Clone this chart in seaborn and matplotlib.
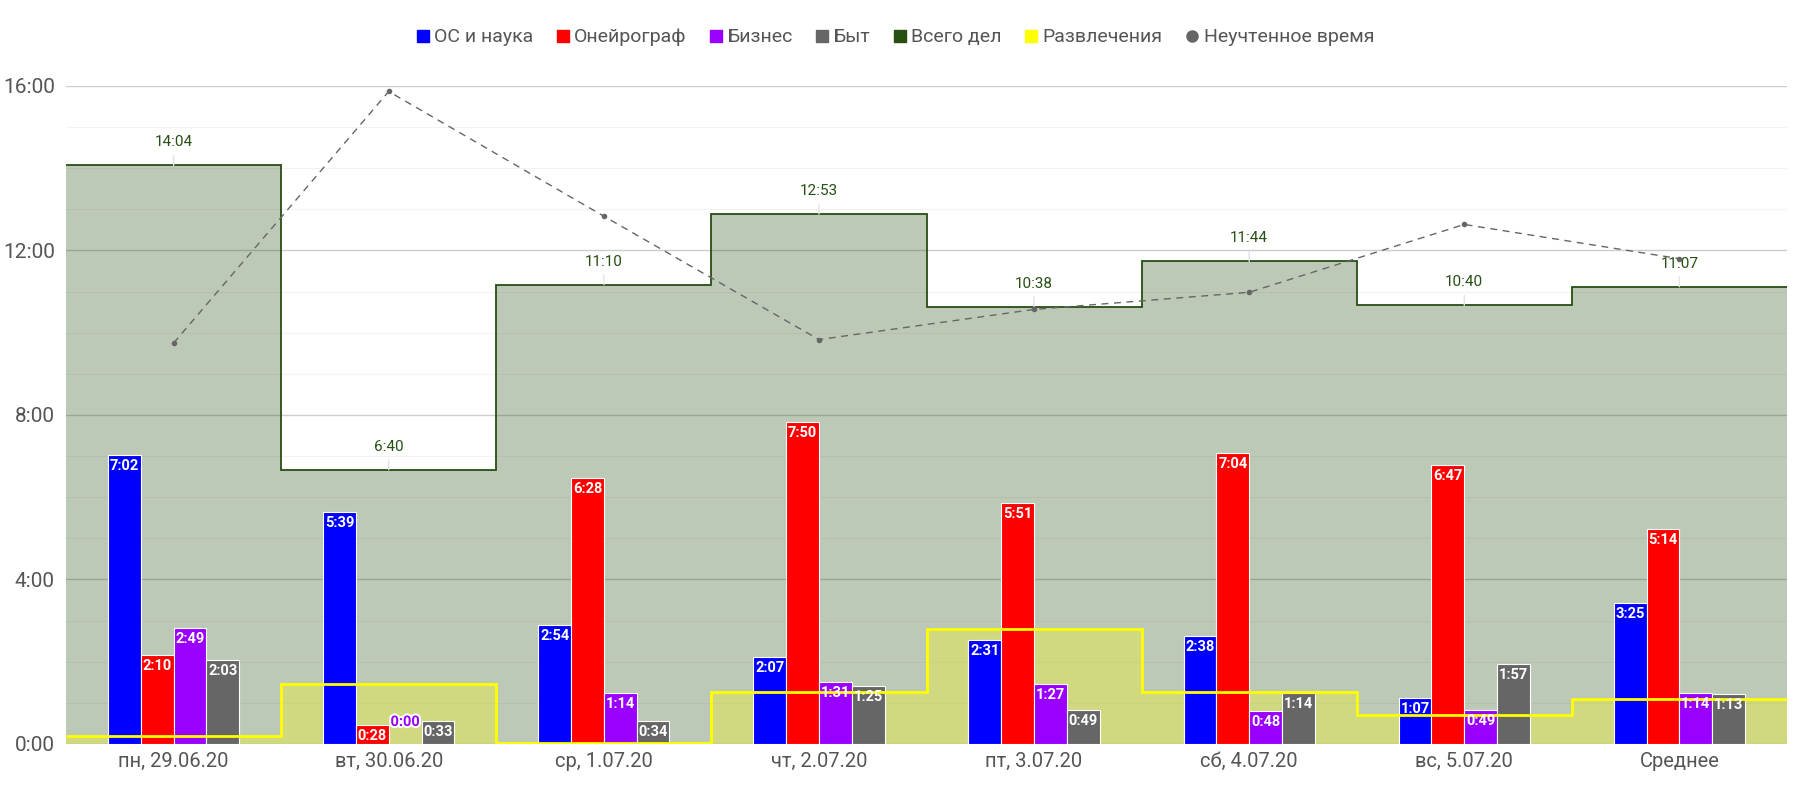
import numpy as np
import pandas as pd
import matplotlib
matplotlib.use("Agg")
import matplotlib.pyplot as plt
import matplotlib.patheffects as pe
from matplotlib.lines import Line2D
from matplotlib.ticker import MultipleLocator, FuncFormatter
import seaborn as sns

# days of the week + the average column
days = ["пн, 29.06.20", "вт, 30.06.20", "ср, 1.07.20", "чт, 2.07.20",
        "пт, 3.07.20", "сб, 4.07.20", "вс, 5.07.20", "Среднее"]

# time per activity, H:MM
science = ["7:02", "5:39", "2:54", "2:07", "2:31", "2:38", "1:07", "3:25"]
oneiro = ["2:10", "0:28", "6:28", "7:50", "5:51", "7:04", "6:47", "5:14"]
business = ["2:49", "0:00", "1:14", "1:31", "1:27", "0:48", "0:49", "1:14"]
household = ["2:03", "0:33", "0:34", "1:25", "0:49", "1:14", "1:57", "1:13"]
total = ["14:04", "6:40", "11:10", "12:53", "10:38", "11:44", "10:40", "11:07"]
fun = ["0:12", "1:28", "0:01", "1:16", "2:48", "1:16", "0:42", "1:06"]
unaccounted = ["9:45", "15:52", "12:50", "9:50", "10:34", "10:59", "12:38", "11:48"]

bar_names = ["ОС и наука", "Онейрограф", "Бизнес", "Быт"]
bar_colors = ["#0000ff", "#ff0000", "#9900ff", "#666666"]


def to_hours(s):
    h, m = s.split(":")
    return int(h) + int(m) / 60


rows = []
for name, vals in zip(bar_names, [science, oneiro, business, household]):
    for d, v in zip(days, vals):
        rows.append({"day": d, "series": name, "hours": to_hours(v), "label": v})
df = pd.DataFrame(rows)

sns.set_theme(style="white")
plt.rcParams["font.family"] = ["Roboto", "DejaVu Sans"]

fig = plt.figure(figsize=(18.05, 7.94), dpi=100)
ax = fig.add_axes([0.0366, 0.063, 0.9534, 0.8287])

sns.barplot(data=df, x="day", y="hours", hue="series", order=days,
            hue_order=bar_names, palette=bar_colors, width=0.61,
            saturation=1, edgecolor="white", linewidth=0.8,
            legend=False, ax=ax, zorder=3)

x = np.arange(len(days))
edges = np.arange(len(days) + 1) - 0.5
tot_h = np.array([to_hours(v) for v in total])
fun_h = np.array([to_hours(v) for v in fun])
un_h = np.array([to_hours(v) for v in unaccounted])

# step areas
ax.stairs(tot_h, edges, fill=True, color="#274e13", alpha=0.3, lw=0, zorder=1)
ax.stairs(tot_h, edges, baseline=None, color="#274e13", lw=1.3, zorder=1.5)
ax.stairs(fun_h, edges, fill=True, color="#ffff00", alpha=0.3, lw=0, zorder=1.2)
ax.stairs(fun_h, edges, baseline=None, color="#ffff00", lw=2, zorder=4)

# unaccounted time
ax.plot(x, un_h, ls=(0, (5, 4)), color="#666666", lw=1, marker="o", ms=3, zorder=5)

# bar labels
bw = 0.61 / 4
for j, (name, col) in enumerate(zip(bar_names, bar_colors)):
    sub = df[df.series == name]
    for i, (h, lab) in enumerate(zip(sub.hours, sub.label)):
        xi = i + (j - 1.5) * bw
        if h > 0:
            ax.annotate(lab, (xi, h), xytext=(0, -4), textcoords="offset pixels",
                        ha="center", va="top", color="white", fontsize=10.5,
                        fontweight="semibold", zorder=6)
        else:
            ax.annotate(lab, (xi, h), xytext=(0, 22), textcoords="offset pixels",
                        ha="center", va="center", color=col, fontsize=10.5,
                        fontweight="semibold", zorder=6,
                        path_effects=[pe.withStroke(linewidth=3, foreground="white")])

# totals labels with leader line
for i, (h, lab) in enumerate(zip(tot_h, total)):
    ax.annotate(lab, (i, h), xytext=(0, 23), textcoords="offset pixels",
                ha="center", va="center", color="#274e13", fontsize=11,
                arrowprops=dict(arrowstyle="-", color="#e2e2e2", lw=1,
                                shrinkA=2, shrinkB=0), zorder=2)

ax.set_xlim(-0.5, len(days) - 0.5)
ax.set_ylim(0, 16)
ax.yaxis.set_major_locator(MultipleLocator(4))
ax.yaxis.set_minor_locator(MultipleLocator(1))
ax.yaxis.set_major_formatter(FuncFormatter(lambda v, p: f"{int(v)}:00"))
ax.set_axisbelow(True)
ax.grid(which="major", axis="y", color="#cccccc", lw=1)
ax.grid(which="minor", axis="y", color="#f2f2f2", lw=0.8)
ax.set_xlabel("")
ax.set_ylabel("")
ax.tick_params(axis="both", which="both", length=0, colors="#555555")
ax.tick_params(axis="y", labelsize=15, pad=8)
ax.tick_params(axis="x", labelsize=14.5, pad=6)
sns.despine(ax=ax, left=True, bottom=True)

handles = [Line2D([], [], ls="", marker="s", ms=9, color=c) for c in bar_colors]
handles += [Line2D([], [], ls="", marker="s", ms=9, color="#274e13"),
            Line2D([], [], ls="", marker="s", ms=9, color="#ffff00"),
            Line2D([], [], ls="", marker="o", ms=8, color="#666666")]
labels = bar_names + ["Всего дел", "Развлечения", "Неучтенное время"]
fig.legend(handles, labels, loc="center", bbox_to_anchor=(0.495, 0.953), ncol=7,
           frameon=False, fontsize=14, handletextpad=0.1, columnspacing=1.0,
           labelcolor="#555555", handlelength=1.0)

fig.savefig("out.png", dpi=100)
